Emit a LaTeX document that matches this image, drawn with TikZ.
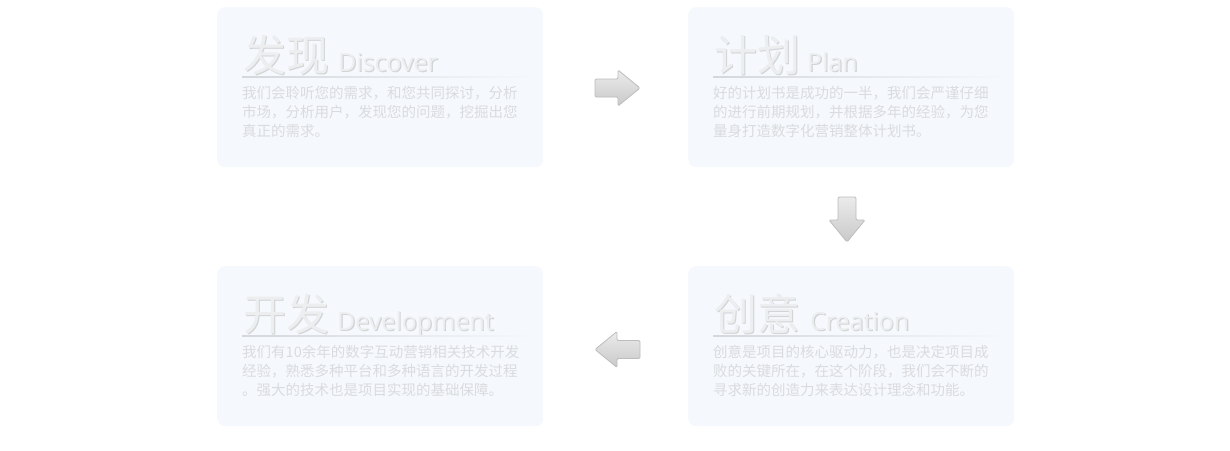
\documentclass[tikz,border=0pt]{standalone}
\usepackage{fontspec}
\setmainfont{Open Sans}
\newfontfamily\cjk{Noto Sans CJK SC}
\definecolor{boxfill}{HTML}{F5F8FC}
\definecolor{bodytxt}{HTML}{DADBDE}
\definecolor{titletxt}{HTML}{EDEEF0}
\definecolor{titleshadow}{HTML}{D2D3D5}
\definecolor{rulecol}{HTML}{D4D7DB}
\definecolor{arrowtop}{HTML}{EBEBEB}
\definecolor{arrowbot}{HTML}{C9C9C9}
\definecolor{arrowedge}{HTML}{BDBDBD}
\begin{document}
\begin{tikzpicture}[x=1pt,y=-1pt,
  stagebox/.style={fill=boxfill, rounded corners=8pt, draw=none, inner sep=0,
    minimum width=326pt, minimum height=160pt, anchor=north west},
  titlecn/.style={font=\cjk\fontsize{43}{43}\selectfont, inner sep=0, anchor=base west, text=titletxt},
  titleen/.style={font=\fontsize{25}{25}\selectfont, inner sep=0, anchor=base west, text=titletxt},
  shadowed/.style={text=titleshadow},
  bodyline/.style={font=\cjk\fontsize{14.5}{19}\selectfont, inner sep=0, anchor=base west, text=bodytxt},
  blockarrow/.style={top color=arrowtop, bottom color=arrowbot, draw=arrowedge, line width=0.8pt, rounded corners=1.2pt}
]
\useasboundingbox[fill=white] (0,0) rectangle (1230,450);

% ---------- Stage 1: Discover ----------
\node[stagebox] (discover) at (217,7) {};
\node[titlecn,shadowed] (discoverCNs) at (244.5,72.5) {发现};
\node[titlecn] (discoverCN) at (243,71) {发现};
\node[titleen,shadowed] (discoverENs) at (339.2,72.2) {Discover};
\node[titleen] (discoverEN) at (338,71) {Discover};
\shade[left color=rulecol, right color=boxfill] (242,76.4) rectangle (535,77.4);
\node[bodyline] (discoverL1) at (242,98.5) {我们会聆听您的需求，和您共同探讨，分析};
\node[bodyline] (discoverL2) at (242,117.5) {市场，分析用户，发现您的问题，挖掘出您};
\node[bodyline] (discoverL3) at (242,136.5) {真正的需求。};

% ---------- Stage 2: Plan ----------
\node[stagebox] (plan) at (688,7) {};
\node[titlecn,shadowed] (planCNs) at (715.5,72.5) {计划};
\node[titlecn] (planCN) at (714,71) {计划};
\node[titleen,shadowed] (planENs) at (808.2,72.2) {Plan};
\node[titleen] (planEN) at (807,71) {Plan};
\shade[left color=rulecol, right color=boxfill] (713,76.4) rectangle (1006,77.4);
\node[bodyline] (planL1) at (713,98.5) {好的计划书是成功的一半，我们会严谨仔细};
\node[bodyline] (planL2) at (713,117.5) {的进行前期规划，并根据多年的经验，为您};
\node[bodyline] (planL3) at (713,136.5) {量身打造数字化营销整体计划书。};

% ---------- Stage 3: Development ----------
\node[stagebox] (develop) at (217,266) {};
\node[titlecn,shadowed] (developCNs) at (244.5,331.5) {开发};
\node[titlecn] (developCN) at (243,330) {开发};
\node[titleen,shadowed] (developENs) at (338.2,331.2) {Development};
\node[titleen] (developEN) at (337,330) {Development};
\shade[left color=rulecol, right color=boxfill] (242,335.4) rectangle (535,336.4);
\node[bodyline] (developL1) at (242,357.5) {我们有10余年的数字互动营销相关技术开发};
\node[bodyline] (developL2) at (242,376.5) {经验，熟悉多种平台和多种语言的开发过程};
\node[bodyline] (developL3) at (242,395.5) {。强大的技术也是项目实现的基础保障。};

% ---------- Stage 4: Creation ----------
\node[stagebox] (creation) at (688,266) {};
\node[titlecn,shadowed] (creationCNs) at (715.5,331.5) {创意};
\node[titlecn] (creationCN) at (714,330) {创意};
\node[titleen,shadowed] (creationENs) at (811.2,331.2) {Creation};
\node[titleen] (creationEN) at (810,330) {Creation};
\shade[left color=rulecol, right color=boxfill] (713,335.4) rectangle (1006,336.4);
\node[bodyline] (creationL1) at (713,357.5) {创意是项目的核心驱动力，也是决定项目成};
\node[bodyline] (creationL2) at (713,376.5) {败的关键所在，在这个阶段，我们会不断的};
\node[bodyline] (creationL3) at (713,395.5) {寻求新的创造力来表达设计理念和功能。};

% ---------- Block arrows ----------
\shade[blockarrow] (595,79) -- (618,79) -- (618,70) -- (640,88) -- (618,106) -- (618,97) -- (595,97) -- cycle;
\shade[blockarrow] (838,197) -- (856,197) -- (856,220) -- (865,220) -- (847,242) -- (829,220) -- (838,220) -- cycle;
\shade[blockarrow] (640,340.5) -- (617,340.5) -- (617,331.5) -- (595,349.5) -- (617,367.5) -- (617,358.5) -- (640,358.5) -- cycle;
\end{tikzpicture}
\end{document}
